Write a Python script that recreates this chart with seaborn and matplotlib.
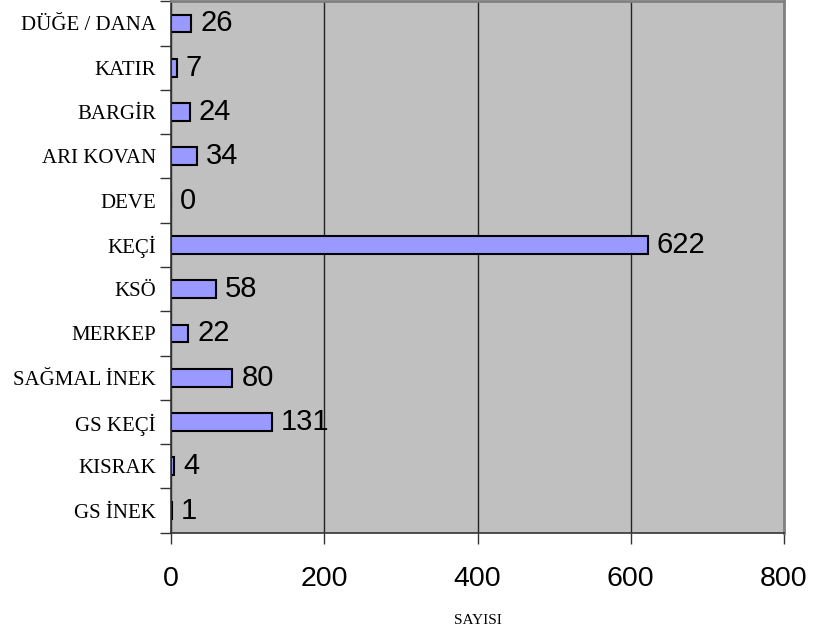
import matplotlib
matplotlib.use('Agg')
import matplotlib.pyplot as plt
import seaborn as sns
import pandas as pd
import numpy as np

categories = ['DÜĞE / DANA', 'KATIR', 'BARGİR', 'ARI KOVAN', 'DEVE', 'KEÇİ',
              'KSÖ', 'MERKEP', 'SAĞMAL İNEK', 'GS KEÇİ', 'KISRAK', 'GS İNEK']
values = [26, 7, 24, 34, 0, 622, 58, 22, 80, 131, 4, 1]
xticks = [0, 200, 400, 600, 800]

df = pd.DataFrame({'kategori': categories, 'sayi': values})

sns.set_style('white')
plt.rcParams['font.family'] = ['Liberation Sans', 'DejaVu Sans']
plt.rcParams['text.color'] = 'black'
plt.rcParams['xtick.color'] = 'black'
plt.rcParams['ytick.color'] = 'black'
plt.rcParams['axes.labelcolor'] = 'black'

fig = plt.figure(figsize=(8.15, 6.38), dpi=100)
ax = fig.add_axes([0.21, 0.165, 0.752, 0.833])
ax.set_facecolor('#C0C0C0')

sns.barplot(data=df, x='sayi', y='kategori', orient='h', color='#9999FF',
            edgecolor='black', linewidth=1.5, width=0.4, saturation=1, ax=ax)

for c in ax.containers:
    ax.bar_label(c, padding=6.5, fontsize=21, color='black', family='Liberation Sans')

ax.set_xlim(0, 800)
ax.set_ylim(len(categories) - 0.5, -0.5)
ax.set_xticks(xticks)
ax.set_xticklabels([str(t) for t in xticks], fontsize=20.5)
ax.xaxis.grid(True, color='#222222', linewidth=1)
ax.set_axisbelow(True)

ax.set_yticks(range(len(categories)))
ax.set_yticklabels(categories, family='Liberation Serif', fontsize=15)
ax.set_yticks(np.arange(-0.5, len(categories), 1), minor=True)
ax.tick_params(axis='y', which='major', length=0, pad=11)
ax.tick_params(axis='y', which='minor', length=8, color='#333333', width=1, direction='out', left=True)
ax.tick_params(axis='x', length=8, color='#333333', width=1, direction='out', bottom=True, pad=16)

for s in ['top', 'right']:
    ax.spines[s].set_color('#808080')
    ax.spines[s].set_linewidth(2)
ax.spines['left'].set_color('#333333')
ax.spines['bottom'].set_color('#333333')
ax.spines['left'].set_linewidth(1.2)
ax.spines['bottom'].set_linewidth(1.2)

ax.set_ylabel('')
ax.set_xlabel('SAYISI', family='Liberation Serif', fontsize=11, labelpad=16)

fig.savefig('out.png', dpi=100)
